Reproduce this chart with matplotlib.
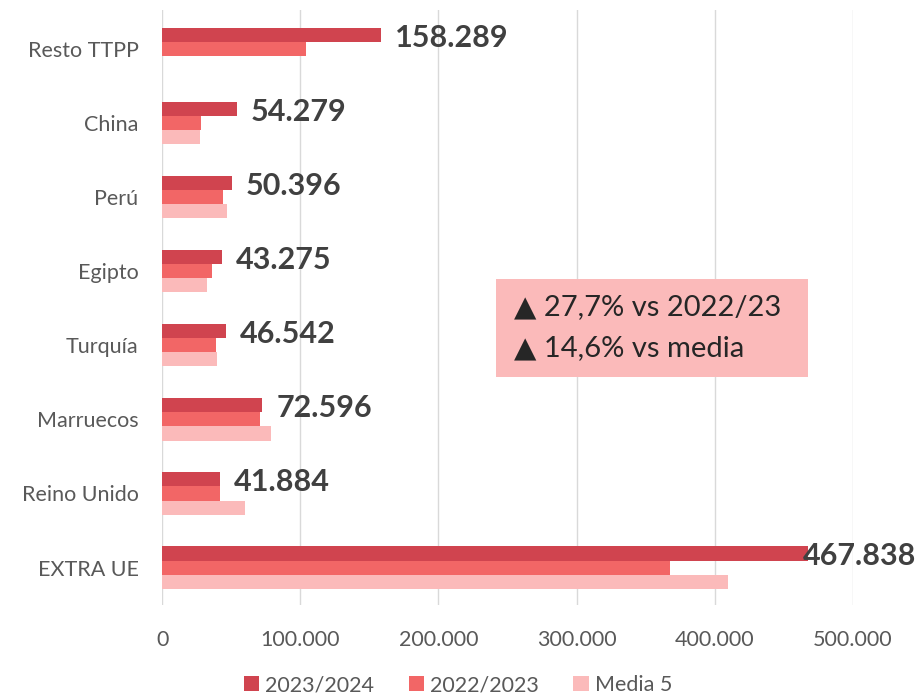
import numpy as np
import matplotlib.pyplot as plt
from matplotlib.patches import Rectangle
from matplotlib.ticker import FuncFormatter

plt.rcParams['font.family'] = ['Lato', 'DejaVu Sans']

# data, bottom to top
categorias = ['EXTRA UE', 'Reino Unido', 'Marruecos', 'Turquía', 'Egipto', 'Perú', 'China', 'Resto TTPP']
v_2023_24 = [467838, 41884, 72596, 46542, 43275, 50396, 54279, 158289]
v_2022_23 = [367500, 42000, 70500, 39000, 36000, 44000, 28000, 104000]
v_media5 = [410000, 59800, 78600, 40000, 32500, 47000, 27500, 0]
series = ['2023/2024', '2022/2023', 'Media 5']
colores = ['#D0444F', '#F26666', '#FBBABA']

fig = plt.figure(figsize=(9.16, 6.99), dpi=100)
ax = fig.add_axes([0.177, 0.134, 0.754, 0.852])

y = np.arange(len(categorias))
h = 0.19
for i, (vals, col, lab) in enumerate(zip([v_2023_24, v_2022_23, v_media5], colores, series)):
    ax.barh(y + (1 - i) * h, vals, height=h, color=col, label=lab, zorder=3)

# labels for current season
for yi, v in zip(y, v_2023_24):
    txt = f'{v:,}'.replace(',', '.')
    dx = -4 if v > 400000 else 10
    ax.annotate(txt, (v, yi + h), xytext=(dx, -2), textcoords='offset points',
                ha='left', va='center', fontsize=22, fontweight='bold', color='#404040', zorder=4)

ax.set_xlim(0, 500000)
ax.set_ylim(-0.51, 7.53)
ax.set_xticks(np.arange(0, 500001, 100000))
ax.xaxis.set_major_formatter(FuncFormatter(lambda x, p: f'{int(x):,}'.replace(',', '.')))
ax.set_yticks(y)
ax.set_yticklabels(categorias)
ax.tick_params(axis='both', length=0, labelsize=15.5, labelcolor='#595959')
ax.tick_params(axis='x', pad=18)
ax.tick_params(axis='y', pad=17)
ax.grid(axis='x', color='#D9D9D9', linewidth=1, zorder=0)
for s in ax.spines.values():
    s.set_visible(False)

# summary box
ax.add_patch(Rectangle((0.483, 0.383), 0.452, 0.165, transform=ax.transAxes,
                       facecolor='#FBBABA', edgecolor='none', zorder=5))
ax.text(0.509, 0.501, '▲ 27,7% vs 2022/23', transform=ax.transAxes, fontsize=21,
        color='#262626', va='center', ha='left', zorder=6)
ax.text(0.509, 0.432, '▲ 14,6% vs media', transform=ax.transAxes, fontsize=21,
        color='#262626', va='center', ha='left', zorder=6)

fig.legend(loc='lower center', bbox_to_anchor=(0.5, -0.022), ncol=3, frameon=False,
           fontsize=15.5, labelcolor='#595959', handlelength=0.7, handleheight=0.7,
           handletextpad=0.3, columnspacing=1.6)

fig.savefig('out.png', dpi=100)
